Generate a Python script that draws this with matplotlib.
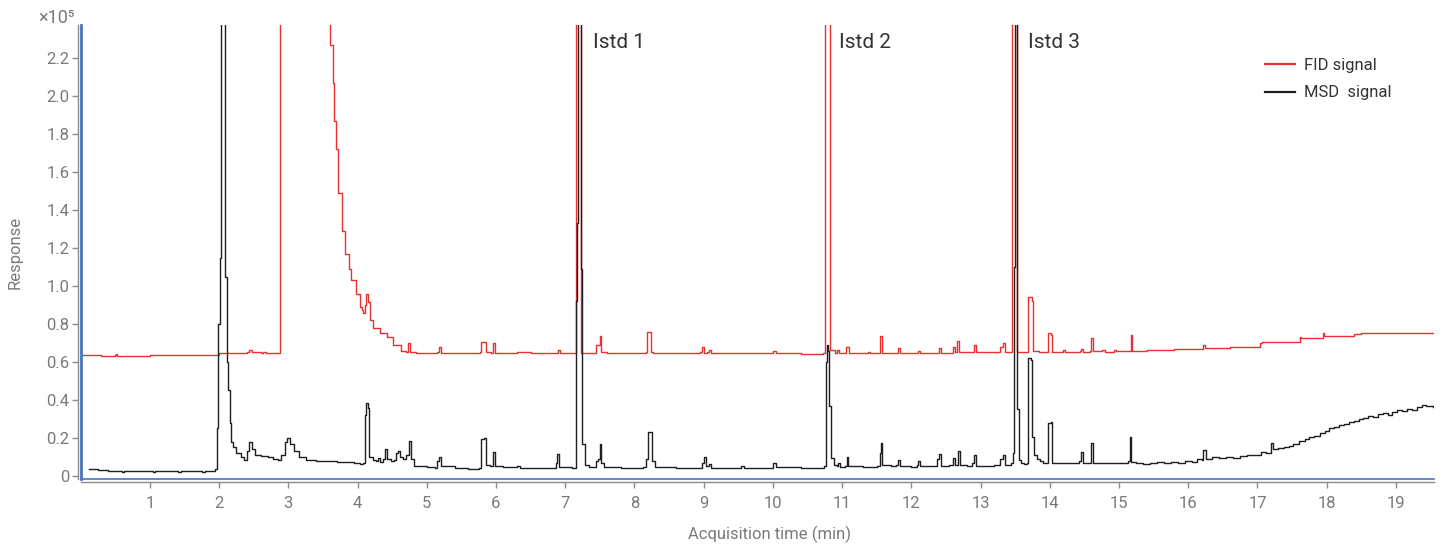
import matplotlib
matplotlib.use("Agg")
import matplotlib.pyplot as plt

# ---- Data (response in units of 1e5) ----
fid_time = [0.02, 0.30, 0.50, 0.51, 0.53, 0.80, 1.00, 1.30, 1.60, 1.90, 2.00, 2.30, 2.40, 2.43, 2.47,
            2.60, 2.64, 2.68, 2.86, 2.88, 3.58, 3.60, 3.64, 3.66, 3.69, 3.72, 3.77, 3.82, 3.87, 3.91,
            3.98, 4.04, 4.06, 4.08, 4.10, 4.12, 4.15, 4.18, 4.22, 4.32, 4.42, 4.51, 4.63, 4.70, 4.73,
            4.76, 4.85, 5.10, 5.14, 5.17, 5.20, 5.40, 5.60, 5.77, 5.79, 5.84, 5.86, 5.93, 5.96, 5.99,
            6.30, 6.50, 6.87, 6.90, 6.93, 7.14, 7.16, 7.22, 7.23, 7.40, 7.45, 7.50, 7.52, 7.60, 8.10,
            8.16, 8.18, 8.22, 8.24, 8.27, 8.90, 8.95, 8.98, 9.01, 9.05, 9.08, 9.10, 9.50, 9.95, 10.00,
            10.05, 10.40, 10.73, 10.75, 10.81, 10.82, 10.90, 10.93, 10.96, 11.05, 11.06, 11.08, 11.10, 11.37,
            11.40, 11.52, 11.54, 11.56, 11.58, 11.80, 11.83, 12.10, 12.13, 12.40, 12.43, 12.60, 12.63, 12.66,
            12.69, 12.91, 12.94, 13.20, 13.28, 13.32, 13.35, 13.44, 13.45, 13.52, 13.53, 13.60, 13.68, 13.69,
            13.74, 13.75, 13.85, 13.97, 13.98, 14.02, 14.03, 14.19, 14.22, 14.43, 14.45, 14.48, 14.58, 14.60,
            14.62, 14.76, 14.80, 14.93, 14.96, 15.15, 15.17, 15.19, 15.40, 15.80, 16.10, 16.22, 16.24, 16.60,
            17.03, 17.06, 17.50, 17.62, 17.63, 17.90, 17.95, 17.96, 18.40, 18.50, 19.54]
fid_resp = [0.635, 0.634, 0.636, 0.640, 0.634, 0.634, 0.635, 0.636, 0.636, 0.637, 0.645, 0.646, 0.650, 0.663, 0.650,
            0.646, 0.652, 0.646, 0.646, 3.0, 3.0, 2.27, 2.07, 1.87, 1.72, 1.49, 1.29, 1.17, 1.09, 1.03,
            0.96, 0.89, 0.874, 0.856, 0.90, 0.96, 0.917, 0.82, 0.777, 0.75, 0.733, 0.69, 0.66, 0.655, 0.70,
            0.652, 0.646, 0.646, 0.655, 0.677, 0.648, 0.645, 0.645, 0.650, 0.707, 0.707, 0.650, 0.648, 0.700, 0.648,
            0.650, 0.646, 0.646, 0.662, 0.646, 0.646, 3.0, 3.0, 0.648, 0.646, 0.690, 0.737, 0.650, 0.646, 0.646,
            0.655, 0.760, 0.760, 0.655, 0.646, 0.646, 0.655, 0.677, 0.648, 0.650, 0.665, 0.646, 0.645, 0.648, 0.660,
            0.645, 0.644, 0.648, 3.0, 3.0, 0.665, 0.648, 0.665, 0.646, 0.648, 0.677, 0.677, 0.646, 0.655,
            0.646, 0.648, 0.738, 0.738, 0.648, 0.675, 0.648, 0.660, 0.645, 0.675, 0.648, 0.680, 0.650, 0.710,
            0.650, 0.690, 0.650, 0.650, 0.680, 0.700, 0.652, 0.652, 3.0, 3.0, 0.655, 0.655, 0.660, 0.940,
            0.920, 0.660, 0.655, 0.660, 0.750, 0.740, 0.655, 0.662, 0.652, 0.660, 0.668, 0.655, 0.660, 0.725,
            0.657, 0.662, 0.655, 0.662, 0.656, 0.660, 0.740, 0.660, 0.665, 0.667, 0.668, 0.690, 0.676, 0.680,
            0.700, 0.707, 0.707, 0.730, 0.725, 0.725, 0.750, 0.738, 0.745, 0.750, 0.750]

msd_time = [0.12, 0.25, 0.40, 0.55, 0.60, 0.62, 0.80, 1.00, 1.05, 1.07, 1.30, 1.40, 1.45, 1.60, 1.75,
            1.80, 1.92, 1.94, 1.97, 1.99, 2.01, 2.03, 2.07, 2.08, 2.11, 2.13, 2.15, 2.17, 2.20, 2.25,
            2.32, 2.36, 2.40, 2.43, 2.47, 2.52, 2.60, 2.70, 2.78, 2.85, 2.90, 2.95, 2.98, 3.02, 3.08,
            3.15, 3.25, 3.40, 3.55, 3.70, 3.85, 3.95, 4.03, 4.08, 4.10, 4.12, 4.15, 4.17, 4.22, 4.26,
            4.29, 4.32, 4.37, 4.40, 4.43, 4.48, 4.52, 4.55, 4.58, 4.61, 4.65, 4.70, 4.74, 4.77, 4.82,
            5.00, 5.12, 5.15, 5.17, 5.20, 5.40, 5.60, 5.75, 5.79, 5.83, 5.86, 5.92, 5.96, 5.99, 6.10,
            6.30, 6.35, 6.60, 6.80, 6.86, 6.88, 6.91, 7.10, 7.15, 7.16, 7.17, 7.18, 7.22, 7.225, 7.235,
            7.28, 7.35, 7.42, 7.44, 7.47, 7.50, 7.52, 7.56, 7.80, 8.00, 8.12, 8.16, 8.19, 8.22, 8.25,
            8.30, 8.60, 8.90, 8.97, 9.00, 9.03, 9.07, 9.10, 9.40, 9.54, 9.58, 9.90, 10.00, 10.05, 10.40,
            10.70, 10.74, 10.76, 10.78, 10.80, 10.81, 10.84, 10.88, 10.92, 10.94, 10.97, 11.04, 11.07, 11.09, 11.30,
            11.50, 11.54, 11.56, 11.58, 11.70, 11.78, 11.80, 11.83, 12.00, 12.08, 12.10, 12.13, 12.30, 12.37, 12.40,
            12.43, 12.55, 12.60, 12.63, 12.67, 12.70, 12.80, 12.88, 12.91, 12.94, 13.10, 13.20, 13.28, 13.32, 13.35,
            13.44, 13.47, 13.48, 13.49, 13.52, 13.53, 13.55, 13.58, 13.62, 13.67, 13.69, 13.73, 13.74, 13.77, 13.82,
            13.86, 13.90, 13.96, 13.98, 14.02, 14.03, 14.10, 14.30, 14.42, 14.45, 14.48, 14.57, 14.60, 14.63, 14.80,
            15.00, 15.13, 15.16, 15.18, 15.25, 15.35, 15.45, 15.55, 15.65, 15.75, 15.85, 15.95, 16.05, 16.12, 16.20,
            16.22, 16.25, 16.35, 16.45, 16.55, 16.65, 16.75, 16.85, 16.95, 17.05, 17.12, 17.19, 17.22, 17.30, 17.38,
            17.45, 17.52, 17.60, 17.68, 17.75, 17.82, 17.90, 17.97, 18.04, 18.11, 18.18, 18.25, 18.32, 18.39, 18.46,
            18.53, 18.60, 18.67, 18.74, 18.81, 18.88, 18.95, 19.02, 19.09, 19.16, 19.23, 19.30, 19.37, 19.44, 19.53]
msd_resp = [0.037, 0.030, 0.027, 0.025, 0.020, 0.026, 0.025, 0.026, 0.022, 0.026, 0.026, 0.022, 0.027, 0.025, 0.022,
            0.026, 0.024, 0.035, 0.25, 0.80, 1.15, 3.0, 3.0, 1.05, 0.60, 0.45, 0.28, 0.18, 0.15, 0.12,
            0.10, 0.085, 0.13, 0.18, 0.14, 0.11, 0.105, 0.10, 0.09, 0.084, 0.11, 0.18, 0.20, 0.17, 0.13,
            0.10, 0.085, 0.080, 0.078, 0.072, 0.075, 0.068, 0.065, 0.070, 0.32, 0.386, 0.36, 0.10, 0.085, 0.080,
            0.095, 0.075, 0.090, 0.14, 0.09, 0.08, 0.085, 0.12, 0.13, 0.10, 0.09, 0.11, 0.184, 0.09, 0.05,
            0.045, 0.043, 0.08, 0.10, 0.05, 0.040, 0.037, 0.040, 0.195, 0.20, 0.06, 0.05, 0.128, 0.05, 0.045,
            0.050, 0.042, 0.040, 0.042, 0.07, 0.115, 0.045, 0.040, 0.05, 0.92, 1.33, 3.0, 3.0, 1.09, 0.168,
            0.058, 0.045, 0.045, 0.08, 0.09, 0.17, 0.07, 0.045, 0.040, 0.042, 0.045, 0.09, 0.23, 0.23, 0.08,
            0.045, 0.040, 0.042, 0.07, 0.10, 0.05, 0.065, 0.042, 0.040, 0.055, 0.040, 0.042, 0.068, 0.045, 0.040,
            0.042, 0.05, 0.60, 0.69, 0.66, 0.37, 0.095, 0.06, 0.05, 0.07, 0.045, 0.05, 0.10, 0.05, 0.045,
            0.05, 0.12, 0.175, 0.06, 0.05, 0.06, 0.084, 0.05, 0.045, 0.06, 0.08, 0.05, 0.05, 0.09, 0.116,
            0.05, 0.06, 0.093, 0.06, 0.134, 0.06, 0.05, 0.07, 0.11, 0.05, 0.055, 0.06, 0.09, 0.11, 0.06,
            0.07, 0.12, 1.10, 3.0, 3.0, 0.35, 0.084, 0.07, 0.065, 0.07, 0.62, 0.61, 0.207, 0.11, 0.09,
            0.08, 0.07, 0.07, 0.28, 0.286, 0.07, 0.066, 0.068, 0.08, 0.128, 0.07, 0.07, 0.172, 0.07, 0.07,
            0.07, 0.08, 0.207, 0.075, 0.070, 0.064, 0.068, 0.072, 0.066, 0.074, 0.070, 0.078, 0.076, 0.087, 0.084,
            0.137, 0.090, 0.100, 0.094, 0.102, 0.097, 0.104, 0.108, 0.112, 0.128, 0.122, 0.172, 0.140, 0.146, 0.152,
            0.160, 0.170, 0.185, 0.192, 0.205, 0.212, 0.228, 0.236, 0.250, 0.256, 0.268, 0.272, 0.285, 0.290, 0.300,
            0.306, 0.318, 0.312, 0.328, 0.330, 0.322, 0.338, 0.345, 0.340, 0.352, 0.348, 0.362, 0.374, 0.366, 0.365]

y_ticks = [0, 0.2, 0.4, 0.6, 0.8, 1.0, 1.2, 1.4, 1.6, 1.8, 2.0, 2.2]
y_tick_labels = ["0", "0.2", "0.4", "0.6", "0.8", "1.0", "1.2", "1.4", "1.6", "1.8", "2.0", "2.2"]
x_ticks = list(range(1, 20))
annotations = [("Istd 1", 7.40), ("Istd 2", 10.96), ("Istd 3", 13.69)]

# ---- Figure ----
W, H = 1443, 544
fig = plt.figure(figsize=(W / 100, H / 100), dpi=100)
left_px, right_px, top_px, bot_px = 80.7, 1434, 25, 479
ax = fig.add_axes([left_px / W, 1 - bot_px / H, (right_px - left_px) / W, (bot_px - top_px) / H])

FONT = ["Roboto", "DejaVu Sans"]
GRAY = "#7a7a7a"
RED = "#e8302e"
BLK = "#1e1e1e"
BLUE = "#4a72c0"

ax.plot(fid_time, fid_resp, color=RED, lw=1.0, drawstyle="steps-post", label="FID signal", zorder=3)
ax.plot(msd_time, msd_resp, color=BLK, lw=1.0, drawstyle="steps-post", label="MSD  signal", zorder=4)

ax.set_xlim(0, 19.55)
ax.set_ylim(-0.016, 2.374)

for s in ["top", "right"]:
    ax.spines[s].set_visible(False)
ax.spines["left"].set_position(("outward", 2.2))
ax.spines["bottom"].set_position(("outward", 2.4))
ax.spines["left"].set_color("#8a8a8a")
ax.spines["bottom"].set_color("#8a8a8a")
ax.spines["left"].set_linewidth(1.0)
ax.spines["bottom"].set_linewidth(1.0)

# blue selection lines at the plot edges
ax.axvline(0, color=BLUE, lw=2.0, clip_on=False, zorder=5)
ax.axhline(-0.016, color=BLUE, lw=1.2, clip_on=False, zorder=5)

ax.set_yticks(y_ticks)
ax.set_yticklabels(y_tick_labels)
ax.set_xticks(x_ticks)
ax.tick_params(axis="both", colors="#8a8a8a", labelcolor=GRAY, length=4, width=1, labelsize=12)
for lab in ax.get_xticklabels() + ax.get_yticklabels():
    lab.set_family(FONT)
ax.tick_params(axis="x", pad=6)
ax.tick_params(axis="y", pad=2)

ax.set_xlabel("Acquisition time (min)", color=GRAY, fontsize=12, family=FONT)
ax.xaxis.set_label_coords(0.509, -0.102)
ax.set_ylabel("Response", color=GRAY, fontsize=12, family=FONT)
ax.yaxis.set_label_coords(-0.0426, 0.5)

fig.text(56 / W, 1 - 18 / H, "×10⁵", color=GRAY, fontsize=13, family=FONT, ha="center", va="center")

for label, t in annotations:
    ax.text(t, 2.28, label, color="#333333", fontsize=15, family=FONT, ha="left", va="center")

leg = ax.legend(loc="upper left", bbox_to_anchor=(1265 / W, 1 - 58 / H), bbox_transform=fig.transFigure,
                frameon=False, prop={"family": FONT, "size": 12}, handlelength=1.8, handletextpad=0.55,
                labelspacing=0.75, borderpad=0, borderaxespad=0)
for t in leg.get_texts():
    t.set_color("#333333")
for h in leg.get_lines():
    h.set_linewidth(1.6)
    h.set_drawstyle("default")

fig.savefig("out.png", dpi=100)
